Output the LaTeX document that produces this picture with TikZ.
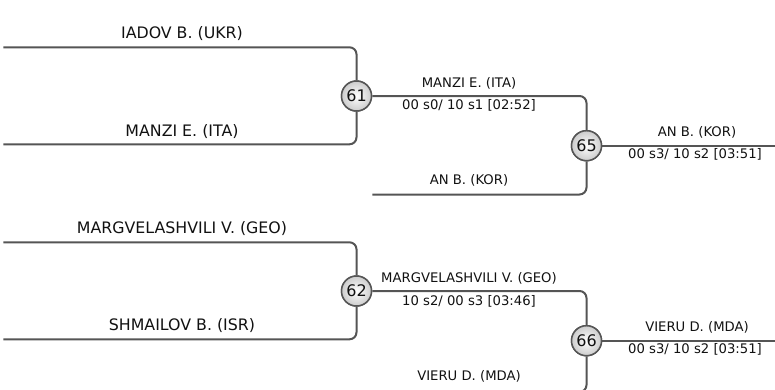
\documentclass[tikz,border=0pt]{standalone}
\usepackage{fontspec}
\setmainfont{DejaVu Sans}
\usetikzlibrary{shadings}
\definecolor{linegray}{HTML}{555555}
\definecolor{txt}{HTML}{111111}
\begin{document}
\begin{tikzpicture}[x=1pt,y=-1pt,
  conn/.style={draw=linegray, line width=2pt, rounded corners=7pt},
  match/.style={circle, draw=linegray, line width=1.5pt, minimum size=30pt, inner sep=0pt,
    inner color=white, outer color=black!20, text=txt, font=\fontsize{16}{17}\selectfont},
  bigname/.style={anchor=base, text=txt, inner sep=0pt, font=\fontsize{15.8}{17}\selectfont},
  smallname/.style={anchor=base, text=txt, inner sep=0pt, font=\fontsize{13.2}{14}\selectfont}]
\useasboundingbox (0,0) rectangle (775,389);
\clip (0,0) rectangle (775,389);
% first round coordinates
\coordinate (a1) at (3.3,47.3);
\coordinate (a2) at (3.3,144.3);
\coordinate (a3) at (3.3,242.3);
\coordinate (a4) at (3.3,339.3);
\coordinate (b1) at (372.3,194.5);
\coordinate (b2) at (372.3,392);
\coordinate (c1) at (780,145.7);
\coordinate (c2) at (780,340.7);
% matches
\node[match] (m61) at (356.5,96) {61};
\node[match] (m62) at (356.5,291) {62};
\node[match] (m65) at (586.5,145.7) {65};
\node[match] (m66) at (586.5,340.7) {66};
% connectors
\draw[conn] (a1) -| (m61);
\draw[conn] (a2) -| (m61);
\draw[conn] (a3) -| (m62);
\draw[conn] (a4) -| (m62);
\draw[conn] (m61) -| (m65);
\draw[conn] (b1) -| (m65);
\draw[conn] (m62) -| (m66);
\draw[conn] (b2) -| (m66);
\draw[conn] (m65) -- (c1);
\draw[conn] (m66) -- (c2);
% redraw circles on top
\node[match] at (m61) {61};
\node[match] at (m62) {62};
\node[match] at (m65) {65};
\node[match] at (m66) {66};
% names
\node[bigname] (n1) at (182,38.3) {IADOV B. (UKR)};
\node[bigname] (n2) at (182,136) {MANZI E. (ITA)};
\node[bigname] (n3) at (182,233) {MARGVELASHVILI V. (GEO)};
\node[bigname] (n4) at (182,330.5) {SHMAILOV B. (ISR)};
\node[smallname] (s1) at (469,87.8) {MANZI E. (ITA)};
\node[smallname] (r1) at (469,109.5) {00 s0/ 10 s1 [02:52]};
\node[smallname] (s2) at (469,184) {AN B. (KOR)};
\node[smallname] (s3) at (469,282.8) {MARGVELASHVILI V. (GEO)};
\node[smallname] (r2) at (469,305) {10 s2/ 00 s3 [03:46]};
\node[smallname] (s4) at (469,380) {VIERU D. (MDA)};
\node[smallname] (s5) at (697,136.7) {AN B. (KOR)};
\node[smallname] (r3) at (695,158.5) {00 s3/ 10 s2 [03:51]};
\node[smallname] (s6) at (697,331.7) {VIERU D. (MDA)};
\node[smallname] (r4) at (695,353.5) {00 s3/ 10 s2 [03:51]};
\end{tikzpicture}
\end{document}
